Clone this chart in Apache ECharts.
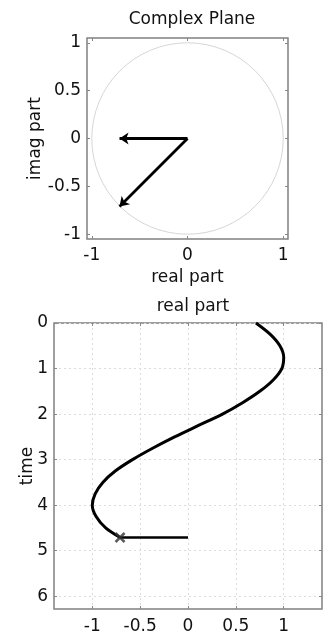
<!DOCTYPE html>
<html>
<head>
<meta charset="utf-8">
<script src="https://cdn.jsdelivr.net/npm/echarts@6/dist/echarts.min.js"></script>
<style>
  html, body { margin: 0; padding: 0; background: #fff; }
  #main { width: 324px; height: 636px; }
</style>
</head>
<body>
<div id="main"></div>
<script>
// phasor in the complex plane
const phasorTip = [-0.71, -0.71];
const realTip = [-0.71, 0];
const unitRadius = 1;
const planeXTicks = [-1, 0, 1];
const planeYTicks = [-1, -0.5, 0, 0.5, 1];

// real part against time
const timeVals = [0, 0.25, 0.5, 0.75, 1.0, 1.25, 1.5, 1.75, 2.0, 2.25, 2.5, 2.75,
                  3.0, 3.25, 3.5, 3.75, 4.0, 4.25, 4.5, 4.71];
const realVals = [0.71, 0.86, 0.96, 1.0, 0.98, 0.89, 0.75, 0.57, 0.36, 0.11, -0.14, -0.37,
                  -0.58, -0.76, -0.89, -0.97, -1.0, -0.96, -0.86, -0.71];
const nowTime = 4.71;
const realAxisTicks = [-1, -0.5, 0, 0.5, 1];
const timeTicks = [0, 1, 2, 3, 4, 5, 6];

const FONT = 'DejaVu Sans';
const txt = { color: '#111', fontFamily: FONT, fontSize: 17 };

function boxAxis(pos, gridIndex, min, max, ticks, opts) {
  return Object.assign({
    type: 'value', gridIndex: gridIndex, position: pos, min: min, max: max,
    axisLine: { show: false, onZero: false },
    axisTick: { show: true, inside: true, length: 3, customValues: ticks,
                lineStyle: { color: '#888', width: 1 } },
    axisLabel: { show: false, customValues: ticks },
    splitLine: { show: false }
  }, opts || {});
}

const curve = timeVals.map((t, i) => [realVals[i], t]);
const chart = echarts.init(document.getElementById('main'));

chart.setOption({
  animation: false,
  backgroundColor: '#fff',
  title: [
    { text: 'Complex Plane', left: 187, textAlign: 'center', top: 6,
      textStyle: Object.assign({ fontWeight: 'normal' }, txt) },
    { text: 'real part', left: 188, textAlign: 'center', top: 293,
      textStyle: Object.assign({ fontWeight: 'normal' }, txt) }
  ],
  grid: [
    { left: 87, right: 36, top: 38, bottom: 397, show: true,
      borderColor: '#808080', borderWidth: 1.5 },
    { left: 54, right: 2, top: 323, bottom: 27, show: true,
      borderColor: '#808080', borderWidth: 1.5 }
  ],
  xAxis: [
    boxAxis('bottom', 0, -1.05, 1.05, planeXTicks, {
      name: 'real part', nameLocation: 'middle', nameGap: 30, nameTextStyle: txt,
      axisLabel: Object.assign({ show: true, margin: 8, customValues: planeXTicks }, txt)
    }),
    boxAxis('top', 0, -1.05, 1.05, planeXTicks),
    boxAxis('bottom', 1, -1.4, 1.4, realAxisTicks, {
      axisLabel: Object.assign({ show: true, margin: 9, customValues: realAxisTicks }, txt),
      splitLine: { show: true, lineStyle: { color: '#dcdcdc', type: [2, 3], width: 1 } }
    }),
    boxAxis('top', 1, -1.4, 1.4, realAxisTicks)
  ],
  yAxis: [
    boxAxis('left', 0, -1.05, 1.05, planeYTicks, {
      name: 'imag part', nameLocation: 'middle', nameGap: 43, nameMoveOverlap: false,
      nameTextStyle: txt,
      axisLabel: Object.assign({ show: true, margin: 6, customValues: planeYTicks }, txt)
    }),
    boxAxis('right', 0, -1.05, 1.05, planeYTicks),
    boxAxis('left', 1, 0, 6.28, timeTicks, {
      inverse: true,
      name: 'time', nameLocation: 'middle', nameGap: 18, nameMoveOverlap: false,
      nameTextStyle: txt,
      axisLabel: Object.assign({ show: true, margin: 6, customValues: timeTicks }, txt),
      splitLine: { show: true, lineStyle: { color: '#dcdcdc', type: [2, 3], width: 1 } }
    }),
    boxAxis('right', 1, 0, 6.28, timeTicks, { inverse: true })
  ],
  series: [
    {
      id: 'circle', type: 'scatter', xAxisIndex: 0, yAxisIndex: 0, silent: true,
      data: [[0, 0]], symbol: 'circle', symbolSize: 10,
      itemStyle: { color: 'transparent', borderColor: '#cccccc', borderWidth: 1 },
      z: 1
    },
    {
      type: 'lines', coordinateSystem: 'cartesian2d', xAxisIndex: 0, yAxisIndex: 0,
      symbol: ['none', 'arrow'], symbolSize: [6, 9], silent: true,
      lineStyle: { color: '#000', width: 2.8, opacity: 1, curveness: 0 },
      data: [
        { coords: [[0, 0], realTip] },
        { coords: [[0, 0], phasorTip] }
      ],
      z: 3
    },
    {
      type: 'line', xAxisIndex: 2, yAxisIndex: 2, data: curve, smooth: 0.3,
      showSymbol: false, lineStyle: { color: '#000', width: 3 }, z: 3
    },
    {
      type: 'line', xAxisIndex: 2, yAxisIndex: 2,
      data: [[realVals[realVals.length - 1], nowTime], [0, nowTime]],
      showSymbol: false, lineStyle: { color: '#000', width: 2.5 }, z: 3
    },
    {
      type: 'scatter', xAxisIndex: 2, yAxisIndex: 2,
      data: [[realVals[realVals.length - 1], nowTime]],
      symbol: 'path://M0,0L10,10M10,0L0,10', symbolSize: 9,
      itemStyle: { color: 'none', borderColor: '#333', borderWidth: 2.5 }, z: 4
    }
  ]
});

// size the unit circle from the axis scale
const c0 = chart.convertToPixel({ gridIndex: 0 }, [0, 0]);
const c1 = chart.convertToPixel({ gridIndex: 0 }, [unitRadius, 0]);
chart.setOption({ series: [{ id: 'circle', symbolSize: 2 * (c1[0] - c0[0]) }] });
</script>
</body>
</html>
